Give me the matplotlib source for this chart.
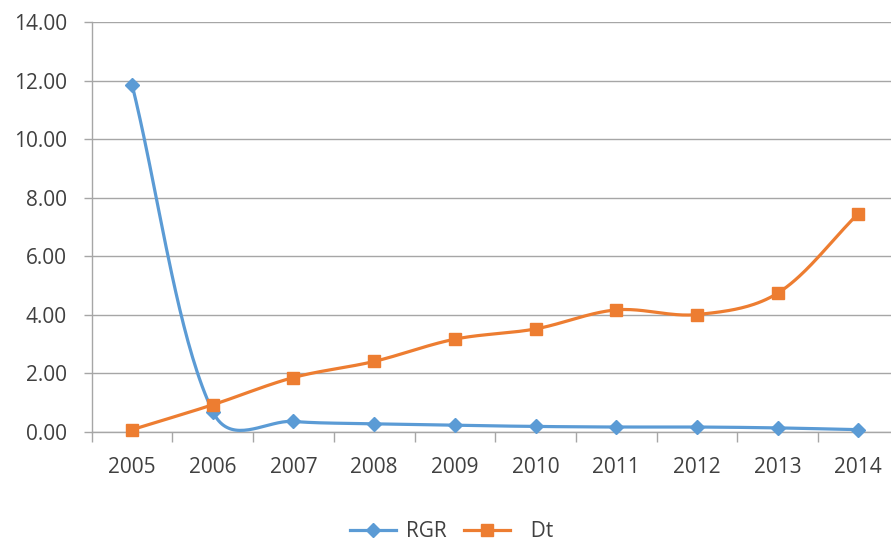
import numpy as np
import matplotlib
matplotlib.use("Agg")
from matplotlib import pyplot as plt
from matplotlib.lines import Line2D

years = ['2005', '2006', '2007', '2008', '2009', '2010', '2011', '2012', '2013', '2014']
rgr = [11.86, 0.70, 0.36, 0.28, 0.23, 0.19, 0.17, 0.17, 0.14, 0.08]
dt = [0.08, 0.93, 1.86, 2.41, 3.17, 3.52, 4.17, 4.01, 4.74, 7.46]
y_ticks = [0, 2, 4, 6, 8, 10, 12, 14]

BLUE = '#5B9BD5'
ORANGE = '#ED7D31'
GRID = '#A6A6A6'
TEXT = '#404040'

plt.rcParams['font.family'] = ['Open Sans', 'DejaVu Sans']


def smooth_xy(ax, xs, ys, n=40):
    # excel-like smoothed line, bezier built in pixel space
    pts = ax.transData.transform(np.column_stack([xs, ys]))
    out = [pts[0]]
    for i in range(len(pts) - 1):
        p0, p1 = pts[i], pts[i + 1]
        pp = pts[i - 1] if i > 0 else p0
        pn = pts[i + 2] if i + 2 < len(pts) else p1
        d_prev = np.sqrt(np.hypot(*(p0 - pp)))
        d_cur = np.sqrt(np.hypot(*(p1 - p0)))
        d_next = np.sqrt(np.hypot(*(pn - p1)))
        c1 = p0 + (p1 - pp) * (d_cur / max(d_prev + d_cur, 1e-9)) / 3
        c2 = p1 - (pn - p0) * (d_cur / max(d_cur + d_next, 1e-9)) / 3
        t = np.linspace(0, 1, n)[1:, None]
        seg = (1 - t) ** 3 * p0 + 3 * (1 - t) ** 2 * t * c1 + 3 * (1 - t) * t ** 2 * c2 + t ** 3 * p1
        out.extend(seg)
    out = ax.transData.inverted().transform(np.array(out))
    return out[:, 0], out[:, 1]


fig = plt.figure(figsize=(8.91, 5.46), dpi=100)
ax = fig.add_axes([91.7 / 891, 114 / 546, 807 / 891, 410 / 546])
x = np.arange(len(years))
ax.set_xlim(-0.5, len(years) - 0.5)
ax.set_ylim(0, 14)

for vals, col, mk, ms, z in [(rgr, BLUE, 'D', 7, 3), (dt, ORANGE, 's', 8.5, 4)]:
    sx, sy = smooth_xy(ax, x, vals)
    ax.plot(sx, sy, color=col, lw=2.3, zorder=z, solid_capstyle='round', clip_on=False)
    ax.plot(x, vals, ls='none', marker=mk, ms=ms, color=col, zorder=z, clip_on=False)

ax.set_yticks(y_ticks)
ax.set_yticklabels(['%.2f' % v for v in y_ticks])
ax.set_xticks(x)
ax.set_xticklabels(years)
ax.set_xticks(np.arange(-0.5, len(years)), minor=True)
ax.tick_params(axis='x', which='major', length=0, pad=18, labelsize=15, labelcolor=TEXT)
ax.tick_params(axis='x', which='minor', length=7, width=1, color=GRID, direction='out')
ax.tick_params(axis='y', length=6, width=1, color=GRID, pad=12, labelsize=15, labelcolor=TEXT)
ax.grid(axis='y', color=GRID, lw=1)
ax.set_axisbelow(True)
for s in ['top', 'right']:
    ax.spines[s].set_visible(False)
for s in ['left', 'bottom']:
    ax.spines[s].set_color(GRID)
    ax.spines[s].set_linewidth(1)

handles = [Line2D([], [], color=BLUE, lw=2.3, marker='D', ms=7),
           Line2D([], [], color=ORANGE, lw=2.3, marker='s', ms=8.5)]
fig.legend(handles, ['RGR', '  Dt'], loc='center', bbox_to_anchor=(0.507, 0.026),
           ncol=2, frameon=False, fontsize=15, labelcolor=TEXT, borderpad=0.2,
           handlelength=2.2, handletextpad=0.5, columnspacing=0.8)

fig.savefig('out.png', dpi=100)
